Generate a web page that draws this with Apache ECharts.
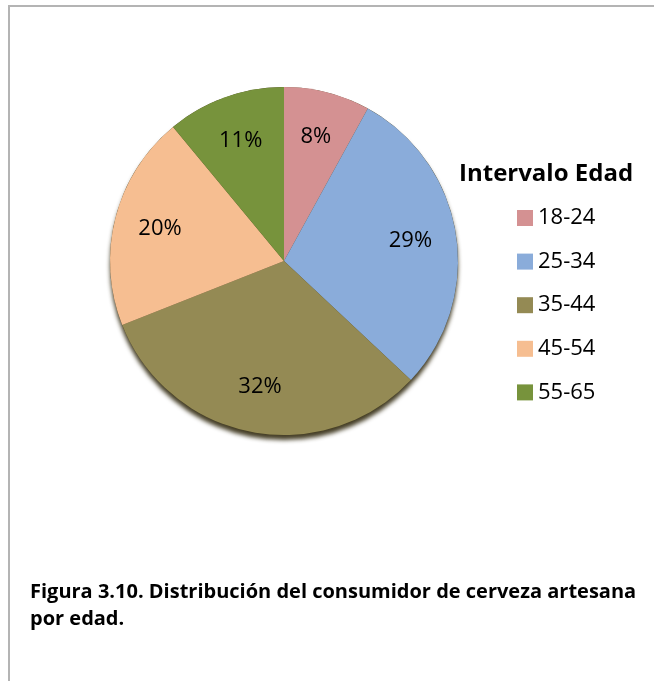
<!DOCTYPE html>
<html>
<head>
<meta charset="utf-8">
<style>html,body{margin:0;padding:0;background:#fff;}#c{width:654px;height:681px;}</style>
<script src="https://cdn.jsdelivr.net/npm/echarts@6/dist/echarts.min.js"></script>
</head>
<body>
<div id="c"></div>
<script>
const categories = ['18-24', '25-34', '35-44', '45-54', '55-65'];
const values = [8, 29, 32, 20, 11];
const colors = ['#D49192', '#8AACDA', '#948A54', '#F6BE91', '#77933C'];
const legendTitle = 'Intervalo Edad';
const captionLines = ['Figura 3.10. Distribución del consumidor de cerveza artesana', 'por edad.'];

const FONT = '"Open Sans", "Noto Sans", sans-serif';
const chart = echarts.init(document.getElementById('c'), null, {renderer: 'canvas'});
const pieData = categories.map((c, i) => ({name: c, value: values[i], itemStyle: {color: colors[i]}}));
const labelData = categories.map((c, i) => ({name: c, value: values[i]}));
const total = values.reduce((a, b) => a + b, 0);

const CENTER = [284, 261];
const R = 174;

chart.setOption({
  animation: false,
  backgroundColor: '#ffffff',
  title: [{
    text: legendTitle, left: 454, top: 157,
    textStyle: {fontFamily: FONT, fontWeight: 'bold', fontSize: 24, color: '#000'}
  }],
  legend: {
    orient: 'vertical', left: 517, top: 207, padding: 0,
    itemWidth: 16, itemHeight: 16, itemGap: 21.6,
    icon: 'rect',
    data: categories,
    textStyle: {fontFamily: FONT, fontSize: 22, color: '#000', padding: [0, 0, 0, 0]},
    selectedMode: false
  },
  graphic: [
    {type: 'polyline', shape: {points: [[9, 681], [9, 6], [654, 6]]}, style: {stroke: '#b4b4b4', lineWidth: 2, fill: null}, silent: true},
    {type: 'text', left: 30, top: 582, style: {text: captionLines[0], font: 'bold 20px ' + FONT, fill: '#000'}},
    {type: 'text', left: 30, top: 609, style: {text: captionLines[1], font: 'bold 20px ' + FONT, fill: '#000'}}
  ],
  series: [
    {
      type: 'pie', center: CENTER, radius: [0, R], z: 1,
      silent: true, label: {show: false}, labelLine: {show: false},
      itemStyle: {color: '#4a4222', shadowColor: 'rgba(50,42,15,0.9)', shadowBlur: 4, shadowOffsetY: 5},
      emphasis: {disabled: true},
      data: [{name: 'total', value: total}]
    },
    {
      type: 'pie', center: CENTER, radius: [0, R], z: 2,
      startAngle: 90, clockwise: true,
      label: {show: false}, labelLine: {show: false},
      emphasis: {disabled: true},
      data: pieData
    },
    {
      type: 'pie', center: CENTER, radius: [76, R], z: 3,
      startAngle: 90, clockwise: true, silent: true,
      itemStyle: {color: 'rgba(0,0,0,0)'},
      label: {show: true, position: 'inside', formatter: '{c}%', fontFamily: FONT, fontSize: 22, color: '#000'},
      labelLine: {show: false},
      emphasis: {disabled: true},
      data: labelData
    }
  ]
});
</script>
</body>
</html>
